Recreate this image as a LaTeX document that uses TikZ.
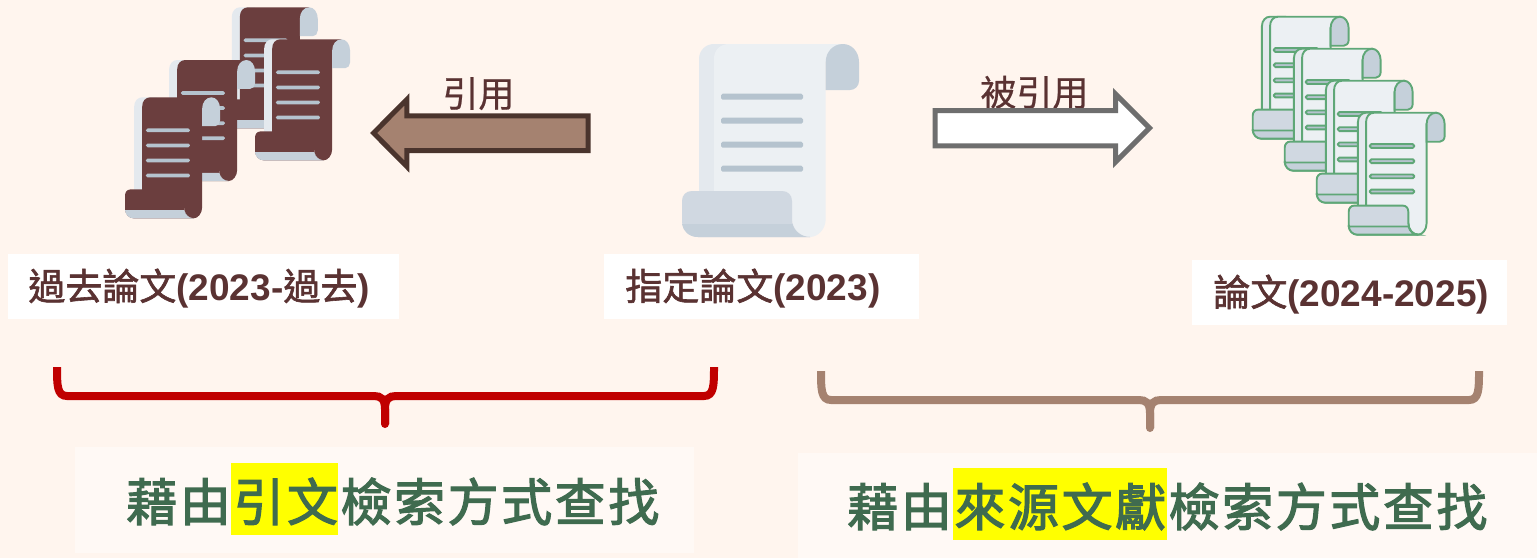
\documentclass[tikz,border=0pt]{standalone}
\usepackage{fontspec}
\usetikzlibrary{arrows.meta}
\setmainfont{Liberation Sans}
\newfontfamily\cjk[FakeBold=0.6]{Noto Sans CJK TC}
\newfontfamily\cjklabel[FakeBold=1.6]{Noto Sans CJK TC}
\newfontfamily\cjkgreen[LetterSpace=5,FakeBold=2.3]{Noto Sans CJK TC}
\newfontfamily\lat[BoldFont={Liberation Sans Bold}]{Liberation Sans}
\definecolor{bgc}{HTML}{FFF5EE}
\definecolor{boxc}{HTML}{FFF9F5}
\definecolor{ink}{HTML}{5A3232}
\definecolor{greenink}{HTML}{3F6B4F}
\definecolor{brownc}{HTML}{A58270}
\definecolor{redc}{HTML}{C00000}
\definecolor{hilite}{HTML}{FFFF00}
\definecolor{purewhite}{HTML}{FFFFFF}
\definecolor{arrowdark}{HTML}{4A342D}
\definecolor{arrowgray}{HTML}{6E6E6E}
\newcommand{\scrollpic}[4]{%
\begin{scope}[shift={(#1,#2)},xscale=#3,yscale=#4]
 \path[fill=scBack,scrolldraw] (60,155) -- (17,155) -- (17,15) .. controls (17,6) and (24,0) .. (32,0) -- (60,0) -- cycle;
 \path[fill=scSheet,scrolldraw] (32,160) -- (32,15) .. controls (32,6) and (38,0) .. (47,0) -- (161,0) -- (161,10) -- (143.7,18) -- (143.7,175)
   .. controls (143.7,185) and (136,193) .. (128,193) .. controls (118,193) and (110,185) .. (110,175) -- (100,160) -- cycle;
 \path[fill=scRoll,scrolldraw] (10,147) -- (100,147) .. controls (106,147) and (110,151) .. (110,157) -- (110,175)
   .. controls (110,185) and (118,193) .. (128,193) -- (16,193) .. controls (7,193) and (0,186) .. (0,177) -- (0,157) .. controls (0,151) and (4,147) .. (10,147) -- cycle;
 \path[fill=scStrip,scrolldraw] (0,180) -- (110.5,180) .. controls (112,187) and (119,193) .. (128,193) -- (16,193) .. controls (7,193) and (1,187) .. (0,180) -- cycle;
 \path[fill=scCurl,scrolldraw] (143.7,46) -- (143.7,18) .. controls (143.7,8) and (151,0) .. (161,0) .. controls (170,0) and (177,8) .. (177,18)
   -- (177,37) .. controls (177,42) and (173,46) .. (168,46) -- cycle;
 \foreach \yy in {52.7,76.7,100.7,124.7}
   \path[fill=scLine,scrolldraw,rounded corners=0.8pt] (39,\yy-3) rectangle (121,\yy+3);
\end{scope}}
\tikzset{
  labeltext/.style={anchor=base west,inner sep=0pt,text=ink,font=\fontsize{18.5}{20}\selectfont},
  arrowtext/.style={anchor=base west,inner sep=0pt,text=ink,font=\cjk\fontsize{18}{20}\selectfont},
  bigtext/.style={anchor=base west,inner sep=0pt,text=greenink,font=\cjkgreen\fontsize{25.5}{28}\selectfont},
  bracestroke/.style={line width=4pt},
  blockarrow/.style={line width=2.5pt,miter limit=10}
}
\newcommand{\latb}{\lat\bfseries}
\begin{document}
\begin{tikzpicture}[x=0.5pt,y=-0.5pt]
\useasboundingbox (0,0) rectangle (1537,558);
\fill[bgc] (0,0) rectangle (1537,558);
% maroon scrolls
\definecolor{scBack}{HTML}{E4E9EE}\definecolor{scSheet}{HTML}{6B3E3E}\definecolor{scRoll}{HTML}{6B3E3E}
\definecolor{scStrip}{HTML}{C5D0DA}\definecolor{scCurl}{HTML}{C5D0DA}\definecolor{scLine}{HTML}{B5C3CE}
\tikzset{scrolldraw/.style={}}
\scrollpic{222.7}{7.3}{0.537}{0.627}
\scrollpic{255}{39.3}{0.537}{0.627}
\scrollpic{160}{60}{0.537}{0.627}
\scrollpic{125}{97.3}{0.537}{0.627}
% main scroll
\definecolor{scSheet}{HTML}{ECF0F3}\definecolor{scRoll}{HTML}{D0D8E1}
\scrollpic{682}{44}{1}{1}
% green scrolls
\definecolor{scOut}{HTML}{5FA777}
\tikzset{scrolldraw/.style={draw=scOut,line width=0.95pt}}
\scrollpic{1252.7}{16.7}{0.542}{0.632}
\scrollpic{1284.7}{48.7}{0.542}{0.632}
\scrollpic{1316.7}{80.7}{0.542}{0.632}
\scrollpic{1348.7}{112.7}{0.542}{0.632}
% arrow labels then block arrows
\node[arrowtext] (citeL) at (442,107) {引用};
\node[arrowtext] (citedL) at (980,106) {被引用};
\draw[blockarrow,draw=arrowdark,fill=brownc]
  (373.6,133) -- (406.8,99.5) -- (406.8,115.8) -- (588.2,115.8) -- (588.2,150.5) -- (406.8,150.5) -- (406.8,166.5) -- cycle;
\draw[blockarrow,draw=arrowgray,fill=purewhite]
  (1149.5,128) -- (1115.5,94) -- (1115.5,110.5) -- (935.2,110.5) -- (935.2,145.8) -- (1115.5,145.8) -- (1115.5,162) -- cycle;
% label boxes
\fill[purewhite] (8,254) rectangle (399,319);
\fill[purewhite] (604,254) rectangle (919,319);
\fill[purewhite] (1192,260) rectangle (1507,325);
\node[labeltext] (pastL) at (28,300) {\cjklabel 過去論文\latb (2023-\cjklabel\mdseries 過去\latb )};
\node[labeltext] (givenL) at (625,300) {\cjklabel 指定論文\latb (2023)};
\node[labeltext] (newL) at (1213,306) {\cjklabel 論文\latb (2024-2025)};
% braces
\draw[bracestroke,redc] (57,367) .. controls (57,385) and (57,396) .. (67,396) -- (374,396) .. controls (381,396) and (385,399) .. (385,409) -- (385,424);
\draw[bracestroke,redc] (714,367) .. controls (714,385) and (714,396) .. (704,396) -- (396,396) .. controls (389,396) and (385,399) .. (385,409) -- (385,424);
\fill[redc] (385,424) circle (2pt);
\draw[bracestroke,brownc] (821,371) .. controls (821,389) and (821,400) .. (831,400) -- (1139,400) .. controls (1146,400) and (1150,403) .. (1150,413) -- (1150,428);
\draw[bracestroke,brownc] (1479,371) .. controls (1479,389) and (1479,400) .. (1469,400) -- (1161,400) .. controls (1154,400) and (1150,403) .. (1150,413) -- (1150,428);
\fill[brownc] (1150,428) circle (2pt);
% bottom text
\fill[boxc] (75,447) rectangle (694,553);
\fill[boxc] (798,453) rectangle (1537,558);
\fill[hilite] (231,463) rectangle (338,535);
\fill[hilite] (953,468) rectangle (1167,540);
\node[bigtext] (leftT) at (126,521) {藉由引文檢索方式查找};
\node[bigtext] (rightT) at (847,526) {藉由來源文獻檢索方式查找};
\end{tikzpicture}
\end{document}
